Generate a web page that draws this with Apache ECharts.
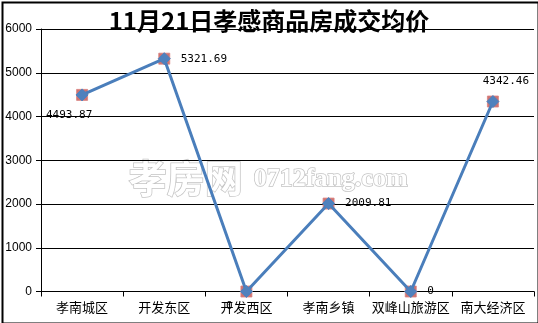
<!DOCTYPE html>
<html><head><meta charset="utf-8">
<script src="https://cdn.jsdelivr.net/npm/echarts@6/dist/echarts.min.js"></script>
<style>html,body{margin:0;padding:0;background:#fff}#c{width:538px;height:323px}</style>
</head><body><div id="c"></div>
<script>
const titleText = '11月21日孝感商品房成交均价';
const categories = ['孝南城区','开发东区','开发西区','孝南乡镇','双峰山旅游区','南大经济区'];
const values = [4493.87, 5321.69, 0, 2009.81, 0, 4342.46];
const labelTexts = ['4493.87','5321.69','0','2009.81','0','4342.46'];
const yTicks = {min: 0, max: 6000, interval: 1000};

const labelCfg = [
  {position: 'bottom', offset: [-13, -2]},
  {position: 'right', offset: [0, 0]},
  {position: 'inside', offset: [-17, 15]},
  {position: 'right', offset: [0, 0]},
  {position: 'right', offset: [0, 0]},
  {position: 'top', offset: [13, 2]}
];

const chart = echarts.init(document.getElementById('c'), null, {renderer: 'canvas'});
const lineData = values.map((v, i) => ({
  value: v,
  label: {
    show: true,
    position: labelCfg[i].position,
    offset: labelCfg[i].offset,
    distance: 10,
    formatter: () => labelTexts[i],
    fontFamily: 'DejaVu Sans Mono',
    fontSize: 11,
    color: '#000'
  }
}));

chart.setOption({
  animation: false,
  backgroundColor: '#fff',
  title: {
    text: titleText, left: 'center', top: 4,
    textStyle: {fontFamily: 'Noto Sans CJK SC', fontWeight: 'bold', fontSize: 24, color: '#000'}
  },
  grid: {left: 41, right: 4, top: 29, bottom: 31.5},
  xAxis: {
    type: 'category', data: categories, boundaryGap: true,
    axisLine: {show: true, lineStyle: {color: '#000', width: 1}},
    axisTick: {show: true, length: 5, lineStyle: {color: '#000'}},
    axisLabel: {fontFamily: 'Noto Sans CJK SC', fontSize: 13, color: '#000', margin: 9, interval: 0},
    splitLine: {show: false}
  },
  yAxis: {
    type: 'value', min: yTicks.min, max: yTicks.max, interval: yTicks.interval,
    axisLine: {show: true, lineStyle: {color: '#000', width: 1}},
    axisTick: {show: true, length: 5, lineStyle: {color: '#000'}},
    axisLabel: {fontFamily: 'Liberation Sans', fontSize: 12, color: '#000', margin: 9, formatter: v => String(v)},
    splitLine: {show: true, lineStyle: {color: '#000', width: 1}}
  },
  graphic: [
    {type: 'text', left: 128, top: 158, z: 0, silent: true,
     style: {text: '孝房网', font: 'bold 38px "Noto Sans CJK SC"', fill: '#fff', stroke: '#c4c4c4', lineWidth: 1.5}},
    {type: 'text', left: 253, top: 166, z: 0, silent: true,
     style: {text: '0712fang.com', font: 'bold 26px "Liberation Serif"', fill: '#fff', stroke: '#c4c4c4', lineWidth: 1.5}},
    {type: 'rect', left: 0, top: 0, z: 100, silent: true,
     shape: {x: 1, y: 1, width: 536, height: 321}, style: {fill: 'none', stroke: '#000', lineWidth: 2}}
  ],
  series: [
    {
      type: 'scatter', data: values, symbol: 'rect', symbolSize: 11, z: 2,
      itemStyle: {color: '#C0504D', borderColor: '#D9817F', borderWidth: 1}
    },
    {
      type: 'line', data: lineData, symbol: 'diamond', symbolSize: 12, z: 3,
      lineStyle: {color: '#4A7EBB', width: 3},
      itemStyle: {color: '#4F81BD', borderColor: '#4F81BD'}
    }
  ]
});
</script></body></html>
